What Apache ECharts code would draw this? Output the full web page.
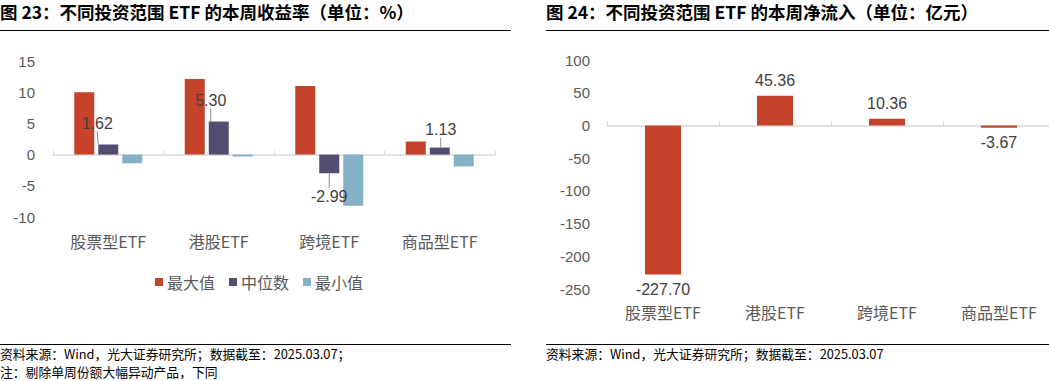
<!DOCTYPE html>
<html>
<head>
<meta charset="utf-8">
<script src="https://cdn.jsdelivr.net/npm/echarts@6/dist/echarts.min.js"></script>
<style>
html,body{margin:0;padding:0;background:#fff;}
#c{width:1049px;height:381px;}
</style>
</head>
<body>
<div id="c"></div>
<script>
// ---- data ----
const categories = ['股票型ETF', '港股ETF', '跨境ETF', '商品型ETF'];
const seriesNames = ['最大值', '中位数', '最小值'];
const maxValues = [10.0, 12.1, 11.0, 2.1];
const medianValues = [1.62, 5.30, -2.99, 1.13];
const minValues = [-1.4, -0.3, -8.2, -1.9];
const flowValues = [-227.70, 45.36, 10.36, -3.67];
const returnTicks = [-10, -5, 0, 5, 10, 15];
const flowTicks = [-250, -200, -150, -100, -50, 0, 50, 100];
const title1 = '图 23：不同投资范围 ETF 的本周收益率（单位：%）';
const title2 = '图 24：不同投资范围 ETF 的本周净流入（单位：亿元）';
const source1 = '资料来源：Wind，光大证券研究所；数据截至：2025.03.07；';
const note1 = '注：剔除单周份额大幅异动产品，下同';
const source2 = '资料来源：Wind，光大证券研究所；数据截至：2025.03.07';

const FONT = '"Liberation Sans", Arial, "Noto Sans CJK SC", sans-serif';
const CJK = '"Noto Sans CJK SC", "Liberation Sans", sans-serif';
const RED = '#C5432A', PURPLE = '#554C72', BLUE = '#84B1C6';
const AXIS_GREY = '#D9D9D9', LABEL_GREY = '#595959';

// label nudges for median series (label positions as in reference)
const medianNudge = [[-11, -9], [-8, -9], [0, 11], [1, -6]];

const chart = echarts.init(document.getElementById('c'), null, {renderer: 'svg'});

const yAxisCommon = {
  type: 'value',
  splitLine: {show: false},
  axisLine: {show: false},
  axisTick: {show: false},
  axisLabel: {color: LABEL_GREY, fontSize: 15, fontFamily: FONT}
};
const xAxisCommon = {
  type: 'category',
  data: categories,
  axisLine: {show: true, onZero: true, lineStyle: {color: AXIS_GREY, width: 1.5}},
  axisTick: {show: true, inside: true, length: 4, lineStyle: {color: AXIS_GREY}},
  axisLabel: {color: LABEL_GREY, fontSize: 16, fontFamily: CJK, interval: 0}
};

const option = {
  animation: false,
  backgroundColor: '#fff',
  grid: [
    {left: 53, width: 442, top: 61, height: 156, containLabel: false, outerBoundsMode: 'none'},
    {left: 607, width: 448, top: 60, height: 229, containLabel: false, outerBoundsMode: 'none'}
  ],
  xAxis: [
    Object.assign({}, xAxisCommon, {gridIndex: 0, axisLabel: Object.assign({}, xAxisCommon.axisLabel, {margin: 16})}),
    Object.assign({}, xAxisCommon, {gridIndex: 1, axisLabel: Object.assign({}, xAxisCommon.axisLabel, {margin: 15})})
  ],
  yAxis: [
    Object.assign({}, yAxisCommon, {gridIndex: 0, min: returnTicks[0], max: returnTicks[returnTicks.length - 1], interval: 5,
      axisLabel: Object.assign({}, yAxisCommon.axisLabel, {margin: 18})}),
    Object.assign({}, yAxisCommon, {gridIndex: 1, min: flowTicks[0], max: flowTicks[flowTicks.length - 1], interval: 50,
      axisLabel: Object.assign({}, yAxisCommon.axisLabel, {margin: 17})})
  ],
  legend: {
    data: seriesNames,
    left: 150, top: 269,
    itemWidth: 8, itemHeight: 8, itemGap: 14,
    icon: 'rect',
    textStyle: {color: LABEL_GREY, fontSize: 16, fontFamily: CJK, padding: [0, 0, 0, -1]}
  },
  series: [
    {
      name: seriesNames[0], type: 'bar', xAxisIndex: 0, yAxisIndex: 0,
      data: maxValues, barWidth: 20, barGap: '20%',
      itemStyle: {color: RED}
    },
    {
      name: seriesNames[1], type: 'bar', xAxisIndex: 0, yAxisIndex: 0,
      data: medianValues.map((v, i) => ({
        value: v,
        label: {position: v < 0 ? 'bottom' : 'top'}
      })),
      barWidth: 20, barGap: '20%',
      itemStyle: {color: PURPLE},
      label: {show: true, formatter: p => p.value.toFixed(2), color: '#404040', fontSize: 16, fontFamily: FONT, distance: 4},
      labelLayout: p => ({dx: medianNudge[p.dataIndex][0], dy: medianNudge[p.dataIndex][1]}),
      labelLine: {show: true, lineStyle: {color: '#8C8C8C', width: 1}}
    },
    {
      name: seriesNames[2], type: 'bar', xAxisIndex: 0, yAxisIndex: 0,
      data: minValues, barWidth: 20, barGap: '20%',
      itemStyle: {color: BLUE}
    },
    {
      name: '净流入', type: 'bar', xAxisIndex: 1, yAxisIndex: 1,
      data: flowValues.map(v => ({value: v, label: {position: v < 0 ? 'bottom' : 'top'}})),
      barWidth: 36,
      itemStyle: {color: RED},
      label: {show: true, formatter: p => p.value.toFixed(2), color: '#404040', fontSize: 16, fontFamily: FONT, distance: 7}
    }
  ],
  graphic: [
    {type: 'text', left: 0, top: 3, style: {text: title1, font: 'bold 17.5px ' + CJK, fill: '#000'}},
    {type: 'line', shape: {x1: 0, y1: 30.5, x2: 511, y2: 30.5}, style: {stroke: '#000', lineWidth: 1}},
    {type: 'text', left: 546, top: 3, style: {text: title2, font: 'bold 17.5px ' + CJK, fill: '#000'}},
    {type: 'line', shape: {x1: 546, y1: 30.5, x2: 1049, y2: 30.5}, style: {stroke: '#000', lineWidth: 1}},
    {type: 'line', shape: {x1: 0, y1: 344.5, x2: 511, y2: 344.5}, style: {stroke: '#000', lineWidth: 1}},
    {type: 'line', shape: {x1: 546, y1: 344.5, x2: 1049, y2: 344.5}, style: {stroke: '#000', lineWidth: 1}},
    {type: 'text', left: 0, top: 347, style: {text: source1, font: '12.8px ' + CJK, fill: '#000'}},
    {type: 'text', left: 0, top: 365, style: {text: note1, font: '12.8px ' + CJK, fill: '#000'}},
    {type: 'text', left: 546, top: 347, style: {text: source2, font: '12.8px ' + CJK, fill: '#000'}}
  ]
};
chart.setOption(option);
</script>
</body>
</html>
